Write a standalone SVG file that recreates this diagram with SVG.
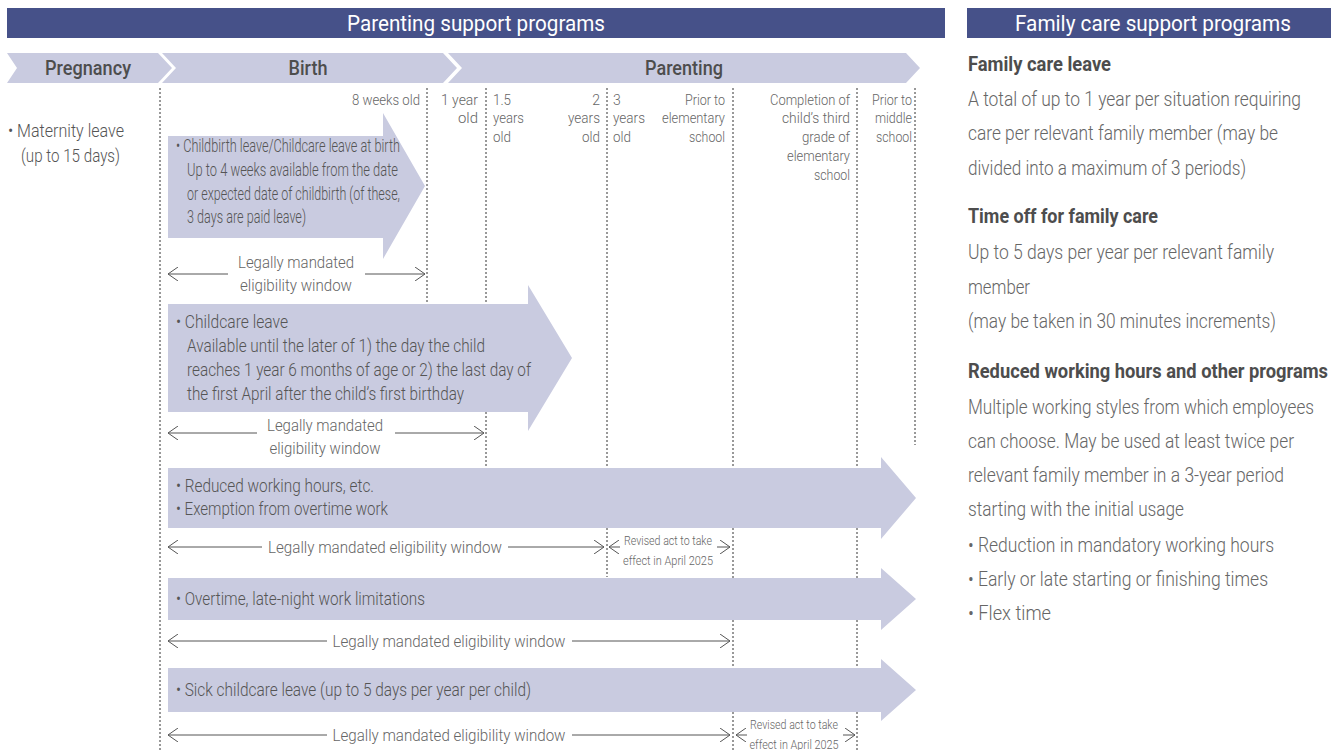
<svg xmlns="http://www.w3.org/2000/svg" width="1337" height="750" viewBox="0 0 1337 750">
<defs>
<style>
text{font-family:Roboto,"Liberation Sans",sans-serif}
.hdr{fill:#465189}
.hdrt{font-size:22px;fill:#fff;text-anchor:middle}
.chev{fill:#c9cbe0}
.chevt{font-size:20px;font-weight:500;fill:#4d4d4d;text-anchor:middle}
.col{font-size:14px;fill:#666;font-weight:300}
.end{text-anchor:end}
.arr{fill:#c9cbe0}
.at{font-size:17.5px;fill:#555;font-weight:300}
.wl{font-size:17px;fill:#666;font-weight:300;text-anchor:middle}
.rv{font-size:13.5px;fill:#666;font-weight:300;text-anchor:middle}
.dash{stroke:#333;stroke-width:1;stroke-dasharray:2 2;fill:none}
.wline{stroke:#555;stroke-width:1;fill:none}
.rp{font-size:20px;fill:#666;font-weight:300}
.rph{font-size:20px;font-weight:700;fill:#4d4d4d}
</style>
<marker id="oh" viewBox="0 0 10 14" refX="10" refY="7" markerWidth="10" markerHeight="14" markerUnits="userSpaceOnUse" orient="auto-start-reverse">
<path d="M0,0 L10,7 L0,14" fill="none" stroke="#555" stroke-width="1"/>
</marker>
</defs>
<rect width="1337" height="750" fill="#fff"/>

<g id="header-parenting">
<rect class="hdr" x="7" y="8" width="938" height="30"/>
<text class="hdrt" x="476" y="31" textLength="258" lengthAdjust="spacingAndGlyphs">Parenting support programs</text>
</g>
<g id="header-family">
<rect class="hdr" x="967" y="8" width="364" height="30"/>
<text class="hdrt" x="1153" y="31" textLength="276" lengthAdjust="spacingAndGlyphs">Family care support programs</text>
</g>

<g id="stage-pregnancy">
<polygon class="chev" points="7,53 158,53 172,68 158,83 7,83 17,68"/>
<text class="chevt" x="88" y="75" textLength="86" lengthAdjust="spacingAndGlyphs">Pregnancy</text>
</g>
<g id="stage-birth">
<polygon class="chev" points="162,53 443,53 457,68 443,83 162,83 176,68"/>
<text class="chevt" x="308" y="75" textLength="39" lengthAdjust="spacingAndGlyphs">Birth</text>
</g>
<g id="stage-parenting">
<polygon class="chev" points="448,53 906,53 920,68 906,83 448,83 462,68"/>
<text class="chevt" x="684" y="75" textLength="78" lengthAdjust="spacingAndGlyphs">Parenting</text>
</g>

<g id="guides">
<line class="dash" x1="160" y1="88" x2="160" y2="750"/>
<line class="dash" x1="427" y1="88" x2="427" y2="303"/>
<line class="dash" x1="486" y1="88" x2="486" y2="466"/>
<line class="dash" x1="607" y1="88" x2="607" y2="577"/>
<line class="dash" x1="733" y1="88" x2="733" y2="750"/>
<line class="dash" x1="857" y1="88" x2="857" y2="750"/>
<line class="dash" x1="915" y1="88" x2="915" y2="445"/>
</g>

<g id="age-labels">
<text class="col end" x="420" y="105" textLength="68" lengthAdjust="spacingAndGlyphs">8 weeks old</text>
<text class="col end" x="478" y="105" textLength="37" lengthAdjust="spacingAndGlyphs">1 year</text>
<text class="col end" x="478" y="123" textLength="20" lengthAdjust="spacingAndGlyphs">old</text>
<text class="col" x="493" y="105" textLength="18" lengthAdjust="spacingAndGlyphs">1.5</text>
<text class="col" x="493" y="123" textLength="31" lengthAdjust="spacingAndGlyphs">years</text>
<text class="col" x="493" y="142" textLength="18" lengthAdjust="spacingAndGlyphs">old</text>
<text class="col end" x="600" y="105">2</text>
<text class="col end" x="600" y="123" textLength="32" lengthAdjust="spacingAndGlyphs">years</text>
<text class="col end" x="600" y="142" textLength="18" lengthAdjust="spacingAndGlyphs">old</text>
<text class="col" x="613" y="105">3</text>
<text class="col" x="613" y="123" textLength="32" lengthAdjust="spacingAndGlyphs">years</text>
<text class="col" x="613" y="142" textLength="18" lengthAdjust="spacingAndGlyphs">old</text>
<text class="col end" x="725" y="105" textLength="40" lengthAdjust="spacingAndGlyphs">Prior to</text>
<text class="col end" x="725" y="123" textLength="63" lengthAdjust="spacingAndGlyphs">elementary</text>
<text class="col end" x="725" y="142" textLength="36" lengthAdjust="spacingAndGlyphs">school</text>
<text class="col end" x="850" y="105" textLength="80" lengthAdjust="spacingAndGlyphs">Completion of</text>
<text class="col end" x="850" y="123" textLength="68" lengthAdjust="spacingAndGlyphs">child’s third</text>
<text class="col end" x="850" y="142" textLength="48" lengthAdjust="spacingAndGlyphs">grade of</text>
<text class="col end" x="850" y="161" textLength="63" lengthAdjust="spacingAndGlyphs">elementary</text>
<text class="col end" x="850" y="180" textLength="36" lengthAdjust="spacingAndGlyphs">school</text>
<text class="col end" x="912" y="105" textLength="40" lengthAdjust="spacingAndGlyphs">Prior to</text>
<text class="col end" x="912" y="123" textLength="37" lengthAdjust="spacingAndGlyphs">middle</text>
<text class="col end" x="912" y="142" textLength="36" lengthAdjust="spacingAndGlyphs">school</text>
</g>

<g id="maternity-leave">
<text class="at" x="8" y="137" textLength="116" lengthAdjust="spacingAndGlyphs">• Maternity leave</text>
<text class="at" x="21" y="162" textLength="99" lengthAdjust="spacingAndGlyphs">(up to 15 days)</text>
</g>

<g id="childbirth-leave">
<polygon class="arr" points="168,136 383,136 383,113 425,186 383,259 383,238 168,238"/>
<text class="at" x="176" y="152" textLength="224" lengthAdjust="spacingAndGlyphs">• Childbirth leave/Childcare leave at birth</text>
<text class="at" x="187" y="176" textLength="211" lengthAdjust="spacingAndGlyphs">Up to 4 weeks available from the date</text>
<text class="at" x="187" y="200" textLength="213" lengthAdjust="spacingAndGlyphs">or expected date of childbirth (of these,</text>
<text class="at" x="187" y="223" textLength="119" lengthAdjust="spacingAndGlyphs">3 days are paid leave)</text>
</g>

<g id="window-1">
<text class="wl" x="296" y="268" textLength="116" lengthAdjust="spacingAndGlyphs">Legally mandated</text>
<text class="wl" x="296" y="291" textLength="112" lengthAdjust="spacingAndGlyphs">eligibility window</text>
</g>

<g id="childcare-leave">
<polygon class="arr" points="168,304 528,304 528,285 572,358 528,431 528,412 168,412"/>
<text class="at" x="176" y="328" textLength="112" lengthAdjust="spacingAndGlyphs">• Childcare leave</text>
<text class="at" x="187" y="352" textLength="298" lengthAdjust="spacingAndGlyphs">Available until the later of 1) the day the child</text>
<text class="at" x="187" y="376" textLength="344" lengthAdjust="spacingAndGlyphs">reaches 1 year 6 months of age or 2) the last day of</text>
<text class="at" x="187" y="400" textLength="277" lengthAdjust="spacingAndGlyphs">the first April after the child’s first birthday</text>
</g>

<g id="window-2">
<text class="wl" x="325" y="431" textLength="116" lengthAdjust="spacingAndGlyphs">Legally mandated</text>
<text class="wl" x="325" y="454" textLength="111" lengthAdjust="spacingAndGlyphs">eligibility window</text>
</g>

<g id="reduced-hours">
<polygon class="arr" points="168,468 881,468 881,457 916,498 881,539 881,528 168,528"/>
<text class="at" x="176" y="492" textLength="198" lengthAdjust="spacingAndGlyphs">• Reduced working hours, etc.</text>
<text class="at" x="176" y="515" textLength="212" lengthAdjust="spacingAndGlyphs">• Exemption from overtime work</text>
</g>

<g id="window-3">
<text class="wl" x="385" y="553" textLength="234" lengthAdjust="spacingAndGlyphs">Legally mandated eligibility window</text>
<text class="rv" x="668" y="545" textLength="88" lengthAdjust="spacingAndGlyphs">Revised act to take</text>
<text class="rv" x="668" y="565" textLength="90" lengthAdjust="spacingAndGlyphs">effect in April 2025</text>
</g>

<g id="overtime-limits">
<polygon class="arr" points="168,578 881,578 881,568 916,599 881,630 881,620 168,620"/>
<text class="at" x="176" y="605" textLength="249" lengthAdjust="spacingAndGlyphs">• Overtime, late-night work limitations</text>
</g>

<g id="window-4">
<text class="wl" x="449" y="647" textLength="233" lengthAdjust="spacingAndGlyphs">Legally mandated eligibility window</text>
</g>

<g id="sick-childcare">
<polygon class="arr" points="168,668 881,668 881,659 916,690 881,721 881,712 168,712"/>
<text class="at" x="176" y="696" textLength="355" lengthAdjust="spacingAndGlyphs">• Sick childcare leave (up to 5 days per year per child)</text>
</g>

<g id="window-5">
<text class="wl" x="449" y="741" textLength="233" lengthAdjust="spacingAndGlyphs">Legally mandated eligibility window</text>
<text class="rv" x="794" y="729" textLength="88" lengthAdjust="spacingAndGlyphs">Revised act to take</text>
<text class="rv" x="794" y="749" textLength="89" lengthAdjust="spacingAndGlyphs">effect in April 2025</text>
</g>

<g id="connectors">
<line class="wline" x1="228" y1="274" x2="168" y2="274" marker-end="url(#oh)"/>
<line class="wline" x1="365" y1="274" x2="425" y2="274" marker-end="url(#oh)"/>
<line class="wline" x1="257" y1="433" x2="168" y2="433" marker-end="url(#oh)"/>
<line class="wline" x1="395" y1="433" x2="484" y2="433" marker-end="url(#oh)"/>
<line class="wline" x1="262" y1="547" x2="168" y2="547" marker-end="url(#oh)"/>
<line class="wline" x1="508" y1="547" x2="604" y2="547" marker-end="url(#oh)"/>
<line class="wline" x1="620" y1="547" x2="609" y2="547" marker-end="url(#oh)"/>
<line class="wline" x1="717" y1="547" x2="730" y2="547" marker-end="url(#oh)"/>
<line class="wline" x1="327" y1="641" x2="168" y2="641" marker-end="url(#oh)"/>
<line class="wline" x1="572" y1="641" x2="730" y2="641" marker-end="url(#oh)"/>
<line class="wline" x1="327" y1="735" x2="168" y2="735" marker-end="url(#oh)"/>
<line class="wline" x1="572" y1="735" x2="730" y2="735" marker-end="url(#oh)"/>
<line class="wline" x1="747" y1="735" x2="736" y2="735" marker-end="url(#oh)"/>
<line class="wline" x1="843" y1="735" x2="855" y2="735" marker-end="url(#oh)"/>
</g>

<g transform="translate(968 0) scale(0.82 1)">
<g id="family-care-leave">
<text class="rph" x="0" y="71" textLength="174.4" lengthAdjust="spacingAndGlyphs">Family care leave</text>
<text class="rp" x="0" y="106" textLength="406.1" lengthAdjust="spacingAndGlyphs">A total of up to 1 year per situation requiring</text>
<text class="rp" x="0" y="140" textLength="378" lengthAdjust="spacingAndGlyphs">care per relevant family member (may be</text>
<text class="rp" x="0" y="175" textLength="339" lengthAdjust="spacingAndGlyphs">divided into a maximum of 3 periods)</text>
</g>
<g id="time-off-family-care">
<text class="rph" x="0" y="223" textLength="231.7" lengthAdjust="spacingAndGlyphs">Time off for family care</text>
<text class="rp" x="0" y="259" textLength="373.2" lengthAdjust="spacingAndGlyphs">Up to 5 days per year per relevant family</text>
<text class="rp" x="0" y="294" textLength="75.6" lengthAdjust="spacingAndGlyphs">member</text>
<text class="rp" x="0" y="328" textLength="375.6" lengthAdjust="spacingAndGlyphs">(may be taken in 30 minutes increments)</text>
</g>
<g id="reduced-hours-family">
<text class="rph" x="0" y="378" textLength="439" lengthAdjust="spacingAndGlyphs">Reduced working hours and other programs</text>
<text class="rp" x="0" y="414" textLength="422" lengthAdjust="spacingAndGlyphs">Multiple working styles from which employees</text>
<text class="rp" x="0" y="448" textLength="397.6" lengthAdjust="spacingAndGlyphs">can choose. May be used at least twice per</text>
<text class="rp" x="0" y="482" textLength="385.4" lengthAdjust="spacingAndGlyphs">relevant family member in a 3-year period</text>
<text class="rp" x="0" y="516" textLength="263.4" lengthAdjust="spacingAndGlyphs">starting with the initial usage</text>
<text class="rp" x="0" y="552" textLength="373.2" lengthAdjust="spacingAndGlyphs">• Reduction in mandatory working hours</text>
<text class="rp" x="0" y="586" textLength="365.9" lengthAdjust="spacingAndGlyphs">• Early or late starting or finishing times</text>
<text class="rp" x="0" y="620" textLength="101.2" lengthAdjust="spacingAndGlyphs">• Flex time</text>
</g>
</g>
</svg>
